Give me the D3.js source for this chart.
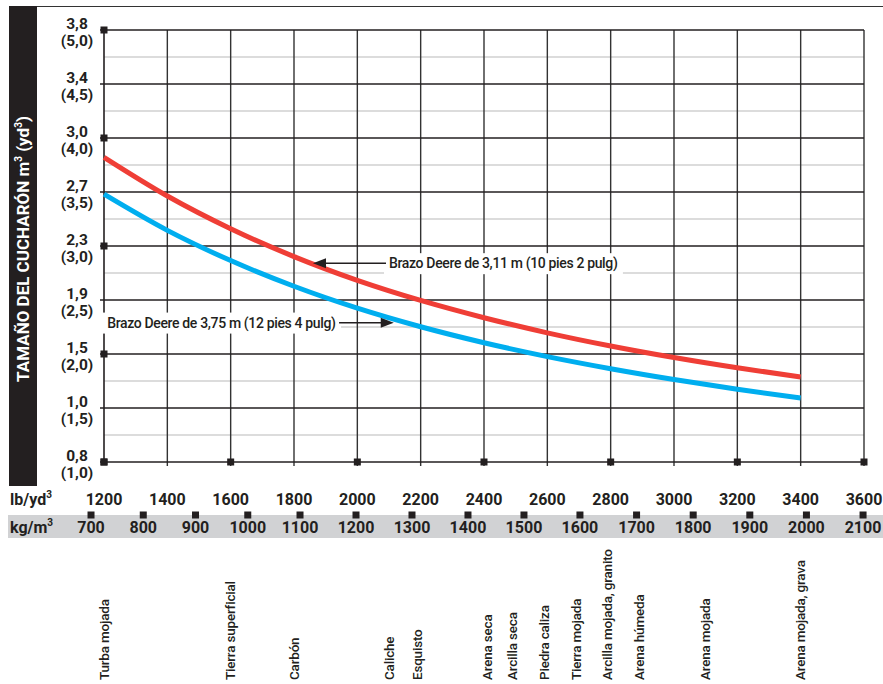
<!DOCTYPE html>
<html><head><meta charset="utf-8">
<script src="https://cdn.jsdelivr.net/npm/d3@7"></script>
<style>
html,body{margin:0;padding:0;background:#fff;}
svg{display:block;}
</style></head>
<body>
<svg id="chart" width="883" height="684"></svg>
<script>
// ---- data ----
const densityLb = [1200,1400,1600,1800,2000,2200,2400,2600,2800,3000,3200,3400];
const arm311 = [3.821,3.463,3.160,2.902,2.682,2.496,2.336,2.196,2.074,1.967,1.872,1.787];
const arm375 = [3.480,3.145,2.865,2.627,2.424,2.252,2.104,1.976,1.864,1.764,1.674,1.592];
const lbTicks = [1200,1400,1600,1800,2000,2200,2400,2600,2800,3000,3200,3400,3600];
const lbSquares = [1200,1600,2000,2400,2800,3200,3600];
const kgTicks = [700,800,900,1000,1100,1200,1300,1400,1500,1600,1700,1800,1900,2000,2100];
const ydTicks = [1.0,1.5,2.0,2.5,3.0,3.5,4.0,4.5,5.0];
const ydTickLabels = ["(1,0)","(1,5)","(2,0)","(2,5)","(3,0)","(3,5)","(4,0)","(4,5)","(5,0)"];
const m3TickLabels = ["0,8","1,0","1,5","1,9","2,3","2,7","3,0","3,4","3,8"];
const ydMinor = [1.25,1.75,2.25,2.75,3.25,3.75,4.25,4.75];
const ydSquares = [1,2,3,4,5];
const materials = ["Turba mojada","Tierra superficial","Carbón","Caliche","Esquisto","Arena seca","Arcilla seca","Piedra caliza","Tierra mojada","Arcilla mojada, granito","Arena húmeda","Arena mojada","Arena mojada, grava"];
const materialLb = [1200,1600,1800,2100,2190,2410,2490,2590,2690,2790,2890,3100,3400];
const label311 = "Brazo Deere de 3,11 m (10 pies 2 pulg)";
const label375 = "Brazo Deere de 3,75 m (12 pies 4 pulg)";

// ---- scales ----
const x = d3.scaleLinear().domain([1200,3600]).range([104,864]);
const y = d3.scaleLinear().domain([1,5]).range([462,30]);
// kg/m3 secondary axis expressed as lb/yd3 positions (printed scale is not strictly linear)
const kgToLb = d3.scaleLinear().domain([700,1100,1600,2100]).range([1159,1819,2703,3597]);

const svg = d3.select("#chart");
const FONT = "Roboto, 'DejaVu Sans', sans-serif";
const RED = "#ef3e36", BLUE = "#00aeef", INK = "#231f20";

// top border line
svg.append("line").attr("x1",9).attr("x2",883).attr("y1",6.5).attr("y2",6.5)
  .attr("stroke","#333").attr("stroke-width",1);

// left black bar with title
svg.append("rect").attr("x",9).attr("y",6).attr("width",28).attr("height",480).attr("fill",INK);
const title = svg.append("text")
  .attr("transform","translate(29,249) rotate(-90)")
  .attr("text-anchor","middle").attr("fill","#fff")
  .attr("font-family",FONT).attr("font-weight",700).attr("font-size",17);
title.append("tspan").text("TAMAÑO DEL CUCHARÓN m");
title.append("tspan").attr("font-size",10).attr("dy",-7).text("3");
title.append("tspan").attr("dy",7).text(" (yd");
title.append("tspan").attr("font-size",10).attr("dy",-7).text("3");
title.append("tspan").attr("dy",7).text(")");

const [x0,x1] = x.range();
// light minor gridlines
svg.append("g").selectAll("line").data(ydMinor).join("line")
  .attr("x1",x0).attr("x2",x1).attr("y1",d=>y(d)).attr("y2",d=>y(d))
  .attr("stroke","#dcdcdc").attr("stroke-width",2);
// vertical gridlines
svg.append("g").selectAll("line").data(lbTicks.slice(1)).join("line")
  .attr("x1",d=>x(d)).attr("x2",d=>x(d)).attr("y1",y(5)).attr("y2",y(1)+4)
  .attr("stroke","#333").attr("stroke-width",1.4);
// major horizontal gridlines
svg.append("g").selectAll("line").data(ydTicks).join("line")
  .attr("x1",x0-4).attr("x2",x1).attr("y1",d=>y(d)).attr("y2",d=>y(d))
  .attr("stroke",INK).attr("stroke-width",1.5);
// y axis line
svg.append("line").attr("x1",x0).attr("x2",x0).attr("y1",y(5)).attr("y2",y(1))
  .attr("stroke",INK).attr("stroke-width",1.6);

// squares
svg.append("g").selectAll("rect").data(ydSquares).join("rect")
  .attr("x",x0-3.5).attr("y",d=>y(d)-3.5).attr("width",7).attr("height",7).attr("fill",INK);
svg.append("g").selectAll("rect").data(lbSquares).join("rect")
  .attr("x",d=>x(d)-3.5).attr("y",y(1)-3.5).attr("width",7).attr("height",7).attr("fill",INK);

// y tick labels (two separate lines: m3 above, yd3 below)
const yl = svg.append("g").attr("font-family",FONT).attr("font-weight",700).attr("font-size",15.5)
  .attr("fill",INK).attr("text-anchor","middle");
yl.selectAll("text.m3").data(ydTicks).join("text").attr("class","m3")
  .attr("x",77).attr("y",d=>y(d)-1.5).text((d,i)=>m3TickLabels[i]);
yl.selectAll("text.yd").data(ydTicks).join("text").attr("class","yd")
  .attr("x",77).attr("y",d=>y(d)+15.5).text((d,i)=>ydTickLabels[i]);

// annotation boxes + labels
const ann = svg.append("g").attr("font-family",FONT).attr("font-weight",500).attr("font-size",14)
  .attr("letter-spacing",-0.35).attr("fill",INK);
function addLabel(txt, xPos, yPos, anchor){
  const t = ann.append("text").attr("x",xPos).attr("y",yPos).attr("dy","0.35em")
    .attr("text-anchor",anchor).text(txt);
  const b = t.node().getBBox();
  ann.insert("rect","text").attr("x",b.x-5).attr("y",b.y-2).attr("width",b.width+10).attr("height",b.height+4)
    .attr("fill","#fff");
  return b;
}
const bRed = addLabel(label311, x(2100), y(2.84), "start");
const bBlue = addLabel(label375, x(1210), y(2.29), "start");

// curves
const line = d3.line().x((d,i)=>x(densityLb[i])).y(d=>y(d)).curve(d3.curveMonotoneX);
svg.append("path").attr("d",line(arm375)).attr("fill","none").attr("stroke",BLUE).attr("stroke-width",5);
svg.append("path").attr("d",line(arm311)).attr("fill","none").attr("stroke",RED).attr("stroke-width",5);

// arrows
function arrow(fromX, toX, yy){
  const dir = Math.sign(toX-fromX);
  svg.append("line").attr("x1",fromX).attr("x2",toX-dir*10).attr("y1",yy).attr("y2",yy)
    .attr("stroke",INK).attr("stroke-width",1.6);
  svg.append("path").attr("d",`M${toX},${yy} L${toX-dir*13},${yy-5} L${toX-dir*13},${yy+5} Z`).attr("fill",INK);
}
arrow(bRed.x-3, x(1860), y(2.84));
arrow(bBlue.x+bBlue.width+3, x(2115), y(2.29));

// lb/yd3 axis labels
const axT = svg.append("g").attr("font-family",FONT).attr("font-weight",700).attr("font-size",16).attr("fill",INK);
axT.selectAll("text.lb").data(lbTicks).join("text").attr("class","lb")
  .attr("x",d=>x(d)).attr("y",505).attr("text-anchor","middle").text(d=>d);
const lbLab = axT.append("text").attr("x",10).attr("y",505);
lbLab.append("tspan").text("lb/yd");
lbLab.append("tspan").attr("font-size",10).attr("dy",-7).text("3");

// kg/m3 band
svg.append("rect").attr("x",8).attr("y",515).attr("width",875).attr("height",23).attr("fill","#d1d2d4");
svg.append("g").selectAll("rect").data(kgTicks).join("rect")
  .attr("x",d=>x(kgToLb(d))-3.5).attr("y",511.5).attr("width",7).attr("height",7).attr("fill",INK);
const kgT = svg.append("g").attr("font-family",FONT).attr("font-weight",700).attr("font-size",16).attr("fill",INK);
kgT.selectAll("text").data(kgTicks).join("text")
  .attr("x",d=>x(kgToLb(d))).attr("y",533).attr("text-anchor","middle").text(d=>d);
const kgLab = kgT.append("text").attr("x",10).attr("y",533);
kgLab.append("tspan").text("kg/m");
kgLab.append("tspan").attr("font-size",10).attr("dy",-7).text("3");

// material labels
svg.append("g").attr("font-family",FONT).attr("font-size",13.5).attr("font-weight",500).attr("fill",INK)
  .attr("letter-spacing",-0.2)
  .selectAll("text").data(materials).join("text")
  .attr("transform",(d,i)=>`translate(${x(materialLb[i])},680) rotate(-90)`)
  .attr("dy","0.35em").text(d=>d);
</script>
</body></html>
